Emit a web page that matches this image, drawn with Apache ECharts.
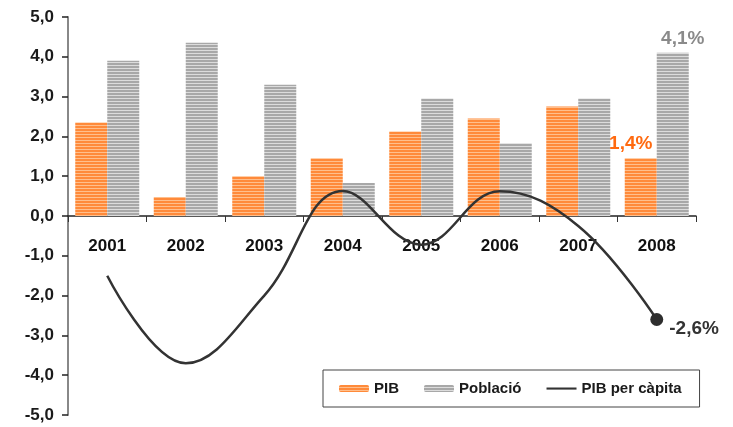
<!DOCTYPE html>
<html>
<head>
<meta charset="utf-8">
<script src="https://cdn.jsdelivr.net/npm/echarts@6/dist/echarts.min.js"></script>
<style>html,body{margin:0;padding:0;background:#fff;}#c{width:733px;height:427px;}</style>
</head>
<body>
<div id="c"></div>
<script>
const years = ['2001','2002','2003','2004','2005','2006','2007','2008'];
const pib = [2.35, 0.48, 1.0, 1.45, 2.12, 2.45, 2.75, 1.45];
const poblacio = [3.9, 4.35, 3.3, 0.83, 2.95, 1.83, 2.95, 4.1];
const pibCapita = [-1.5, -3.7, -2.0, 0.63, -0.72, 0.62, -0.25, -2.6];
const yTicks = [-5, -4, -3, -2, -1, 0, 1, 2, 3, 4, 5];

function stripes(c1, c2) {
  const cv = document.createElement('canvas');
  cv.width = 4; cv.height = 3;
  const ctx = cv.getContext('2d');
  ctx.fillStyle = c1; ctx.fillRect(0, 0, 4, 2);
  ctx.fillStyle = c2; ctx.fillRect(0, 2, 4, 1);
  return {image: cv, repeat: 'repeat'};
}
const orangePat = stripes('#ff8a3a', '#ffbf8c');
const grayPat = stripes('#a8a8a8', '#dcdcdc');

const fmt = v => v.toFixed(1).replace('.', ',');
const FONT = '"Liberation Sans", Arial, sans-serif';
const last = years.length - 1;
const GRID_TOP = 17, GRID_H = 398;
const lineIcon = 'path://M0,0L0,0M0,7L0,7M0,2.5L30,2.5L30,4.6L0,4.6Z';

const chart = echarts.init(document.getElementById('c'));
chart.setOption({
  animation: false,
  textStyle: {fontFamily: FONT},
  grid: {left: 68, right: 37, top: GRID_TOP, bottom: 427 - GRID_TOP - GRID_H, containLabel: false, outerBoundsMode: 'none'},
  legend: {
    left: 323, top: 370,
    backgroundColor: '#fff', borderColor: '#444', borderWidth: 1,
    padding: [11, 18, 11, 16],
    itemWidth: 30, itemHeight: 7, itemGap: 25,
    textStyle: {fontSize: 15, fontWeight: 'bold', color: '#1a1a1a', fontFamily: FONT},
    data: ['PIB', 'Població', {name: 'PIB per càpita', icon: lineIcon, itemStyle: {color: '#333'}}]
  },
  xAxis: {
    type: 'category', data: years, position: 'top', offset: -(GRID_H / 2),
    axisLine: {onZero: false, lineStyle: {color: '#222', width: 1.5}},
    axisTick: {show: true, inside: true, length: 6, lineStyle: {color: '#333'}},
    axisLabel: {inside: true, fontSize: 17, fontWeight: 'bold', color: '#111', margin: 22}
  },
  yAxis: {
    type: 'value', min: -5, max: 5, interval: 1,
    splitLine: {show: false},
    axisLine: {show: true, lineStyle: {color: '#888', width: 2}},
    axisTick: {show: true, length: 6, lineStyle: {color: '#222', width: 1.5}},
    axisLabel: {fontSize: 17, fontWeight: 'bold', color: '#1a1a1a', margin: 14,
      formatter: v => yTicks.includes(v) ? fmt(v) : ''}
  },
  series: [
    {
      name: 'PIB', type: 'bar', barWidth: 32, barGap: '0%',
      itemStyle: {color: orangePat},
      data: pib.map((v, i) => i === last ? {value: v, label: {show: true, position: 'top', offset: [-10, 0],
        formatter: () => fmt(v) + '%', color: '#ff6a10', fontSize: 19, fontWeight: 'bold'}} : v)
    },
    {
      name: 'Població', type: 'bar', barWidth: 32, barGap: '0%',
      itemStyle: {color: grayPat},
      data: poblacio.map((v, i) => i === last ? {value: v, label: {show: true, position: 'top', offset: [10, 0],
        formatter: () => fmt(v) + '%', color: '#8a8a8a', fontSize: 19, fontWeight: 'bold'}} : v)
    },
    {
      name: 'PIB per càpita', type: 'line', smooth: 0.4,
      symbol: 'none', showSymbol: false,
      lineStyle: {color: '#333', width: 2.5},
      itemStyle: {color: '#333'},
      data: pibCapita,
      z: 5
    },
    {
      name: 'endpoint', type: 'scatter', symbol: 'circle', symbolSize: 13,
      itemStyle: {color: '#2e2e2e', opacity: 1}, z: 6,
      data: pibCapita.map((v, i) => i === last ? {value: v, label: {show: true, position: 'right', distance: 6, offset: [0, 9],
        formatter: () => fmt(v) + '%', color: '#333', fontSize: 19, fontWeight: 'bold'}} : null)
    }
  ]
});
</script>
</body>
</html>
